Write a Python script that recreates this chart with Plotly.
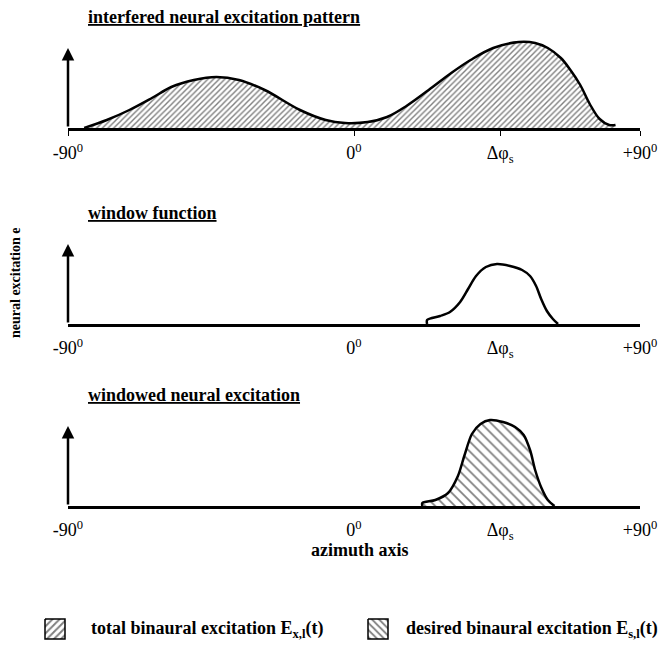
import plotly.graph_objects as go

# azimuth in degrees, excitation in arbitrary units
total_az = [-84.9, -77.8, -70.7, -63.6, -57.5, -50.4, -43.3, -36.2, -28.1, -17.0, -8.9, -2.8, 4.3, 10.4, 16.5,
            23.5, 30.6, 36.7, 43.8, 51.9, 57.0, 61.0, 65.1, 68.1, 71.2, 74.2, 77.3, 80.3, 82.3]
total_e = [0, 8, 18, 30, 41, 48, 51, 48, 38, 18, 8, 5, 6, 11, 22, 38, 55, 68, 80, 86, 85, 80, 70, 58, 43, 24, 9, 3, 3]

window_az = [23.0, 23.0, 27.1, 30.2, 33.4, 35.9, 38.4, 41.5, 45.0, 49.1, 52.9, 55.4, 57.3, 58.9, 60.7, 62.6, 64.2]
window_e = [0, 4, 8, 12, 22, 35, 48, 57, 60, 58, 54, 48, 38, 25, 13, 5, 0]

desired_az = [21.5, 21.5, 25.6, 29.6, 32.7, 34.7, 37.1, 39.8, 42.8, 46.9, 50.7, 53.4, 55.5, 57.0, 59.0, 61.0, 63.1]
desired_e = [0, 3, 6, 13, 30, 50, 72, 82, 86, 84, 79, 71, 55, 36, 18, 6, 0]

tick_vals = [-90, 0, 46, 90]
tick_text = ["-90<sup>0</sup>", "0<sup>0</sup>", "Δφ<sub>s</sub>", "+90<sup>0</sup>"]
titles = ["interfered neural excitation pattern", "window function", "windowed neural excitation"]
legend_names = ["total binaural excitation E<sub>x,l</sub>(t)", "desired binaural excitation E<sub>s,l</sub>(t)"]

FONT = "Liberation Serif"
W, H = 672, 645


def px(x):
    return x / W


def py(y):
    return (H - y) / H


fig = go.Figure()

fig.add_trace(go.Scatter(x=total_az, y=total_e, mode="lines",
                         line=dict(color="black", width=2.5, shape="spline", smoothing=1),
                         fill="tozeroy", fillcolor="white",
                         fillpattern=dict(shape="/", fgcolor="black", bgcolor="white", size=4, solidity=0.35),
                         showlegend=False, xaxis="x", yaxis="y"))
fig.add_trace(go.Scatter(x=window_az, y=window_e, mode="lines",
                         line=dict(color="black", width=2.5, shape="spline", smoothing=0.8),
                         showlegend=False, xaxis="x2", yaxis="y2"))
fig.add_trace(go.Scatter(x=desired_az, y=desired_e, mode="lines",
                         line=dict(color="black", width=2.5, shape="spline", smoothing=0.8),
                         fill="tozeroy", fillcolor="white",
                         fillpattern=dict(shape="\\", fgcolor="black", bgcolor="white", size=7, solidity=0.25),
                         showlegend=False, xaxis="x3", yaxis="y3"))

# panel baselines / tops in pixel rows
panels = [(128, 38), (324, 234), (506, 416)]
xdom = [px(68), px(640)]

layout = dict(width=W, height=H, margin=dict(l=0, r=0, t=0, b=0, autoexpand=False),
              plot_bgcolor="rgba(0,0,0,0)", paper_bgcolor="white", showlegend=False,
              font=dict(family=FONT, color="black"))
for i, (b, t) in enumerate(panels):
    sfx = "" if i == 0 else str(i + 1)
    layout["xaxis" + sfx] = dict(range=[-90, 90], domain=xdom, anchor="y" + sfx, showgrid=False, zeroline=False,
                                 showline=True, linecolor="black", linewidth=2.5,
                                 tickvals=tick_vals, ticktext=tick_text,
                                 ticks="outside" if i == 0 else "", ticklen=5, tickwidth=1.2, tickcolor="black",
                                 ticklabelstandoff=2 if i == 0 else 6, automargin=False,
                                 tickfont=dict(family=FONT, size=18, color="black"), fixedrange=True)
    layout["yaxis" + sfx] = dict(range=[0, 90], domain=[py(b), py(t)], anchor="x" + sfx, showgrid=False,
                                 zeroline=False, showline=False, showticklabels=False, ticks="",
                                 automargin=False, fixedrange=True)

# overlay axis in pixel units for the legend keys
layout["xaxis4"] = dict(range=[0, W], domain=[0, 1], anchor="y4", visible=False, fixedrange=True, automargin=False)
layout["yaxis4"] = dict(range=[H, 0], domain=[0, 1], anchor="x4", visible=False, fixedrange=True, automargin=False)
fig.update_layout(**layout)

# legend keys (pattern boxes)
key_boxes = [(45, 65, 619, 639, "/", 5, 0.4), (368, 388, 619, 639, "\\", 5, 0.35)]
for x0, x1, y0, y1, shp, sz, sol in key_boxes:
    fig.add_trace(go.Scatter(x=[x0, x1, x1, x0, x0], y=[y0, y0, y1, y1, y0], mode="lines", fill="toself",
                             fillcolor="white", line=dict(color="black", width=1.5),
                             fillpattern=dict(shape=shp, fgcolor="black", bgcolor="white", size=sz, solidity=sol),
                             showlegend=False, hoverinfo="skip", xaxis="x4", yaxis="y4"))

fig.add_annotation(x=px(89), y=py(629), xref="paper", yref="paper", xanchor="left", yanchor="middle",
                   text="<b>" + legend_names[0] + "</b>", showarrow=False,
                   font=dict(family=FONT, size=18, color="black"))
fig.add_annotation(x=px(404), y=py(629), xref="paper", yref="paper", xanchor="left", yanchor="middle",
                   text="<b>" + legend_names[1] + "</b>", showarrow=False,
                   font=dict(family=FONT, size=18, color="black"))

# vertical arrows
for i in range(3):
    sfx = "" if i == 0 else str(i + 1)
    fig.add_annotation(x=-90, y=80, ax=-90, ay=0, xref="x" + sfx, yref="y" + sfx, axref="x" + sfx,
                       ayref="y" + sfx, showarrow=True, arrowhead=2, arrowsize=1, arrowwidth=2.5,
                       arrowcolor="black", text="")

title_rows = [17, 213, 395]
for t, r in zip(titles, title_rows):
    fig.add_annotation(x=px(86), y=py(r), xref="paper", yref="paper", xanchor="left", yanchor="middle",
                       text="<u><b>" + t + "</b></u>", showarrow=False,
                       font=dict(family=FONT, size=18, color="black"))

fig.add_annotation(x=px(360), y=py(550), xref="paper", yref="paper", xanchor="center", yanchor="middle",
                   text="<b>azimuth axis</b>", showarrow=False, font=dict(family=FONT, size=18, color="black"))
fig.add_annotation(x=px(15), y=py(283), xref="paper", yref="paper", xanchor="center", yanchor="middle",
                   text="<b>neural excitation e</b>", showarrow=False, textangle=-90,
                   font=dict(family=FONT, size=14, color="black"))

fig.write_html("out.html")
